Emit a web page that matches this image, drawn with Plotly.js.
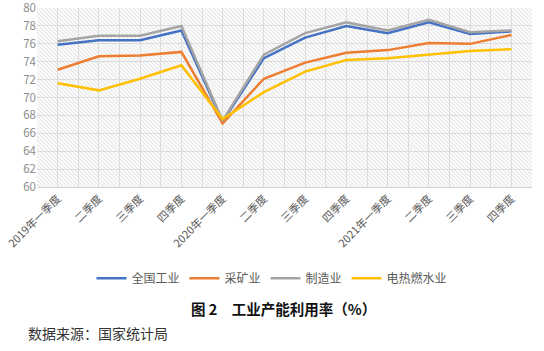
<!DOCTYPE html>
<html><head><meta charset="utf-8">
<script src="https://cdn.plot.ly/plotly-3.0.1.min.js"></script>
<style>html,body{margin:0;padding:0;background:#fff;}#c{width:544px;height:351px;}</style>
</head><body><div id="c"></div>
<script>
const categories = ["2019年一季度","二季度","三季度","四季度","2020年一季度","二季度","三季度","四季度","2021年一季度","二季度","三季度","四季度"];
const seriesNames = ["全国工业","采矿业","制造业","电热燃水业"];
const national = [75.9,76.4,76.4,77.5,67.3,74.4,76.7,78.0,77.2,78.4,77.1,77.4];
const mining = [73.1,74.6,74.7,75.1,67.1,72.1,73.9,75.0,75.3,76.1,76.0,77.0];
const manufacturing = [76.3,76.9,76.9,78.0,67.4,74.8,77.2,78.4,77.5,78.7,77.3,77.5];
const utilities = [71.6,70.8,72.1,73.6,67.6,70.6,72.9,74.2,74.4,74.8,75.2,75.4];
const colors = ["#4472C4","#ED7D31","#A5A5A5","#FFC000"];
const yTicks = [60,62,64,66,68,70,72,74,76,78,80];

const idx = categories.map((_, i) => i);
const allSeries = [national, mining, manufacturing, utilities];
const traces = allSeries.map((vals, k) => ({
  x: idx, y: vals, type: "scatter", mode: "lines", name: seriesNames[k],
  line: {color: colors[k], width: 2.5}
}));

const hatch = 'data:image/svg+xml;utf8,' + encodeURIComponent(
 '<svg xmlns="http://www.w3.org/2000/svg" width="495" height="179" preserveAspectRatio="none">' +
 '<defs><pattern id="p" width="4" height="4" patternUnits="userSpaceOnUse">' +
 '<path d="M-1,-1 L5,5 M-1,3 L1,5 M3,-1 L5,1" stroke="#e4e4e4" stroke-width="1"/></pattern></defs>' +
 '<rect width="495" height="179" fill="#fafafa"/><rect width="495" height="179" fill="url(#p)"/></svg>');

const layout = {
  width: 544, height: 351,
  margin: {l: 37, r: 12, t: 8, b: 164},
  paper_bgcolor: "#ffffff", plot_bgcolor: "rgba(0,0,0,0)",
  font: {family: "Noto Sans CJK SC, sans-serif", color: "#595959", size: 11},
  showlegend: true,
  legend: {orientation: "h", x: 0.11, xanchor: "left", y: -0.51, yanchor: "middle",
    font: {size: 12, color: "#595959"}, itemwidth: 30, tracegroupgap: 0, itemclick: false},
  xaxis: {
    range: [-0.5, 11.5], tickmode: "array", tickvals: idx, ticktext: categories,
    tickangle: -45, showgrid: true, gridcolor: "#dcdcdc", gridwidth: 1,
    minor: {tickmode: "array", tickvals: idx.map(i => i + 0.5).concat([-0.5]), showgrid: true, gridcolor: "#dcdcdc", ticklen: 0},
    showline: true, linecolor: "#d0d0d0", zeroline: false, ticks: "",
    tickfont: {size: 11, color: "#595959"}, fixedrange: true
  },
  yaxis: {
    range: [59.99, 80.01], tickmode: "array", tickvals: yTicks, showgrid: true,
    gridcolor: "#dcdcdc", zeroline: false, showline: false, ticks: "",
    ticklabeloverflow: "allow",
    tickfont: {size: 11.5, color: "#8c8c8c"}, fixedrange: true
  },
  images: [{source: hatch, xref: "paper", yref: "paper", x: 0, y: 1, sizex: 1, sizey: 1,
    sizing: "stretch", layer: "below", xanchor: "left", yanchor: "top"}],
  annotations: [
    {text: "<b>图 2　工业产能利用率（%）</b>", xref: "paper", yref: "paper", x: (283-37)/495, y: (187-308)/179,
     xanchor: "center", yanchor: "middle", showarrow: false, font: {size: 14.5, color: "#111"}},
    {text: "数据来源：国家统计局", xref: "paper", yref: "paper", x: (26-37)/495, y: (187-333)/179,
     xanchor: "left", yanchor: "middle", showarrow: false, font: {size: 14, color: "#333"}}
  ]
};
Plotly.newPlot("c", traces, layout, {displayModeBar: false, staticPlot: true});
</script></body></html>
